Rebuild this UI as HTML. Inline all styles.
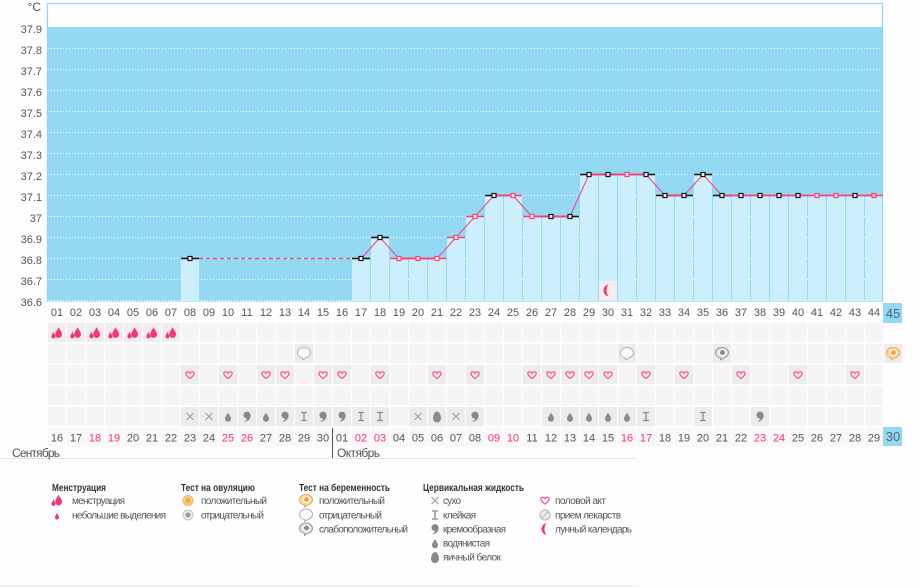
<!DOCTYPE html>
<html><head><meta charset="utf-8"><style>
html,body{margin:0;padding:0;background:#fdfefd;}
svg{display:block;font-family:"Liberation Sans",Arial,sans-serif;}
</style></head><body>
<svg width="921" height="587" viewBox="0 0 921 587" xmlns="http://www.w3.org/2000/svg">
<defs>
<pattern id="cells" x="47" y="323" width="19" height="21" patternUnits="userSpaceOnUse"><rect x="1" y="0" width="18" height="19" fill="#f5f5f5"/></pattern>
<pattern id="dcells" x="47" y="428" width="19" height="40" patternUnits="userSpaceOnUse"><rect x="1" y="0" width="18" height="19" fill="#f8f8f8"/></pattern>
<g id="heart"><path d="M0,3.6 C-1.8,2 -4.2,0.3 -4.2,-1.4 C-4.2,-3.4 -1.4,-4 0,-1.8 C1.4,-4 4.2,-3.4 4.2,-1.4 C4.2,0.3 1.8,2 0,3.6Z" fill="none" stroke="#ff4d85" stroke-width="1.2"/></g>
<g id="men" fill="#f2386f"><path d="M1.5,-6 C2.5,-3 5,-1.5 5,1.5 A3.4,3.4 0 0 1 -1.8,1.5 C-1.8,-1 0.5,-3 1.5,-6Z"/><path d="M-3.6,-1.5 C-3.2,0.5 -1.6,1.8 -1.6,3.4 A2,2 0 0 1 -5.6,3.4 C-5.6,1.8 -4,0.5 -3.6,-1.5Z"/></g>
<g id="smallmen" fill="#f2386f"><path d="M0,-3.5 C0.5,-1.5 2,0 2,1.5 A2,2 0 0 1 -2,1.5 C-2,0 -0.5,-1.5 0,-3.5Z"/></g>
<g id="cross" stroke="#9a9a9a" stroke-width="1"><path d="M-3.5,-3.5L3.5,3.5M3.5,-3.5L-3.5,3.5"/></g>
<g id="stick" stroke="#8a8a8a" stroke-width="1.3" fill="none"><path d="M-3,-4H3M0,-4V4M-3,4H3"/></g>
<g id="cream" fill="#888"><path d="M-3.6,-1.5 A3.6,3.6 0 1 1 3.6,-1 C3.6,3 0.5,5 -3,5.5 C-1,4 0,3 0.3,2 A3.6,3.6 0 0 1 -3.6,-1.5Z"/></g>
<g id="water" fill="#8a8a8a"><path d="M0,-4.5 C0.8,-2.5 3,-0.5 3,1.8 A3,3 0 0 1 -3,1.8 C-3,-0.5 -0.8,-2.5 0,-4.5Z"/></g>
<g id="egg" fill="#8a8a8a"><path d="M0,-5.5 C2.8,-5.5 4,-1 4,1.5 A4,4 0 0 1 -4,1.5 C-4,-1 -2.8,-5.5 0,-5.5Z"/></g>
<g id="bub"><path d="M-1.5,5 C-4.5,4.5 -6.5,2.5 -6.5,-0.3 A6.5,5.3 0 1 1 2,4.8 L-1.5,6.8Z" fill="#fafafa" stroke="#b0b0b0" stroke-width="1"/></g>
<g id="graybub"><path d="M-1.5,5 C-4.5,4.5 -6.5,2.5 -6.5,-0.3 A6.5,5.3 0 1 1 2,4.8 L-1.5,6.8Z" fill="#e2e2e2" stroke="#999" stroke-width="1"/><circle cx="0.5" cy="-0.5" r="3" fill="#8a8a8a" stroke="#fff" stroke-width="1"/></g>
<g id="orbub"><path d="M-1.5,5 C-4.5,4.5 -6.5,2.5 -6.5,-0.3 A6.5,5.3 0 1 1 2,4.8 L-1.5,6.8Z" fill="#fbd9a6" stroke="#e9a84f" stroke-width="1"/><circle cx="0.5" cy="-0.5" r="3" fill="#f0a540" stroke="#fff" stroke-width="1"/></g>
<g id="moon"><path d="M1.5,-6 A6,6 0 0 0 1.5,6 A3,6 0 0 1 1.5,-6Z" fill="#f2386f"/></g>
</defs>

<!-- plot -->
<rect x="47.5" y="3.5" width="835" height="297.5" fill="#fdfefd" stroke="#8fd6f0" stroke-width="1.2"/>
<rect x="48" y="27" width="834" height="274" fill="#93d9f3"/>
<g stroke="#ffffff" stroke-width="1" stroke-dasharray="1 2">
<line x1="48" y1="48.5" x2="882" y2="48.5"/><line x1="48" y1="69.5" x2="882" y2="69.5"/><line x1="48" y1="90.5" x2="882" y2="90.5"/><line x1="48" y1="111.5" x2="882" y2="111.5"/><line x1="48" y1="132.5" x2="882" y2="132.5"/><line x1="48" y1="153.5" x2="882" y2="153.5"/><line x1="48" y1="174.5" x2="882" y2="174.5"/><line x1="48" y1="195.5" x2="882" y2="195.5"/><line x1="48" y1="216.5" x2="882" y2="216.5"/><line x1="48" y1="237.5" x2="882" y2="237.5"/><line x1="48" y1="258.5" x2="882" y2="258.5"/><line x1="48" y1="279.5" x2="882" y2="279.5"/><line x1="48" y1="300.5" x2="882" y2="300.5"/>
</g>
<g fill="#cdeefb">
<rect x="181" y="258.5" width="18" height="42.5"/>
<rect x="352" y="258.5" width="18" height="42.5"/>
<rect x="371" y="237.5" width="18" height="63.5"/>
<rect x="390" y="258.5" width="18" height="42.5"/>
<rect x="409" y="258.5" width="18" height="42.5"/>
<rect x="428" y="258.5" width="18" height="42.5"/>
<rect x="447" y="237.5" width="18" height="63.5"/>
<rect x="466" y="216.5" width="18" height="84.5"/>
<rect x="485" y="195.5" width="18" height="105.5"/>
<rect x="504" y="195.5" width="18" height="105.5"/>
<rect x="523" y="216.5" width="18" height="84.5"/>
<rect x="542" y="216.5" width="18" height="84.5"/>
<rect x="561" y="216.5" width="18" height="84.5"/>
<rect x="580" y="174.5" width="18" height="126.5"/>
<rect x="599" y="174.5" width="18" height="126.5"/>
<rect x="618" y="174.5" width="18" height="126.5"/>
<rect x="637" y="174.5" width="18" height="126.5"/>
<rect x="656" y="195.5" width="18" height="105.5"/>
<rect x="675" y="195.5" width="18" height="105.5"/>
<rect x="694" y="174.5" width="18" height="126.5"/>
<rect x="713" y="195.5" width="18" height="105.5"/>
<rect x="732" y="195.5" width="18" height="105.5"/>
<rect x="751" y="195.5" width="18" height="105.5"/>
<rect x="770" y="195.5" width="18" height="105.5"/>
<rect x="789" y="195.5" width="18" height="105.5"/>
<rect x="808" y="195.5" width="18" height="105.5"/>
<rect x="827" y="195.5" width="18" height="105.5"/>
<rect x="846" y="195.5" width="18" height="105.5"/>
<rect x="865" y="195.5" width="17" height="105.5"/>
</g>
<!-- moon cell -->
<rect x="599" y="281" width="18" height="19" fill="#f4eef0"/>
<use href="#moon" x="608" y="290.5"/>

<!-- dashed gap -->
<line x1="199" y1="258.5" x2="352" y2="258.5" stroke="#ff3d73" stroke-width="1.2" stroke-dasharray="4 3"/>
<!-- ticks -->
<g stroke="#111" stroke-width="1.5">
<line x1="181" y1="258.5" x2="199" y2="258.5"/>
<line x1="352" y1="258.5" x2="370" y2="258.5"/>
<line x1="371" y1="237.5" x2="389" y2="237.5"/>
<line x1="485" y1="195.5" x2="503" y2="195.5"/>
<line x1="542" y1="216.5" x2="560" y2="216.5"/>
<line x1="561" y1="216.5" x2="579" y2="216.5"/>
<line x1="580" y1="174.5" x2="598" y2="174.5"/>
<line x1="599" y1="174.5" x2="617" y2="174.5"/>
<line x1="637" y1="174.5" x2="655" y2="174.5"/>
<line x1="656" y1="195.5" x2="674" y2="195.5"/>
<line x1="675" y1="195.5" x2="693" y2="195.5"/>
<line x1="694" y1="174.5" x2="712" y2="174.5"/>
<line x1="713" y1="195.5" x2="731" y2="195.5"/>
</g>
<g stroke="#ff3d73" stroke-width="1.5">
<line x1="447" y1="237.5" x2="465" y2="237.5"/>
<line x1="466" y1="216.5" x2="484" y2="216.5"/>
<line x1="504" y1="195.5" x2="522" y2="195.5"/>
<line x1="523" y1="216.5" x2="541" y2="216.5"/>
<line x1="390" y1="258.5" x2="427" y2="258.5"/>
<line x1="428" y1="258.5" x2="446" y2="258.5"/>
<line x1="618" y1="174.5" x2="636" y2="174.5"/>
<line x1="865" y1="195.5" x2="883" y2="195.5"/>
</g>
<!-- connections -->
<g stroke="#ff3d73" stroke-width="1.8">
<line x1="399" y1="258.5" x2="437" y2="258.5"/>
<line x1="494" y1="195.5" x2="513" y2="195.5"/>
<line x1="532" y1="216.5" x2="570" y2="216.5"/>
<line x1="589" y1="174.5" x2="646" y2="174.5"/>
<line x1="665" y1="195.5" x2="684" y2="195.5"/>
<line x1="722" y1="195.5" x2="874" y2="195.5"/>
</g>
<g stroke="#ff3d73" stroke-width="1">
<line x1="361" y1="258.5" x2="380" y2="237.5"/>
<line x1="380" y1="237.5" x2="399" y2="258.5"/>
<line x1="437" y1="258.5" x2="456" y2="237.5"/>
<line x1="456" y1="237.5" x2="475" y2="216.5"/>
<line x1="475" y1="216.5" x2="494" y2="195.5"/>
<line x1="513" y1="195.5" x2="532" y2="216.5"/>
<line x1="570" y1="216.5" x2="589" y2="174.5"/>
<line x1="646" y1="174.5" x2="665" y2="195.5"/>
<line x1="684" y1="195.5" x2="703" y2="174.5"/>
<line x1="703" y1="174.5" x2="722" y2="195.5"/>
</g>
<!-- markers -->
<g fill="#fff" stroke="#111" stroke-width="1.2">
<rect x="188" y="256.5" width="4" height="4"/>
<rect x="359" y="256.5" width="4" height="4"/>
<rect x="378" y="235.5" width="4" height="4"/>
<rect x="492" y="193.5" width="4" height="4"/>
<rect x="549" y="214.5" width="4" height="4"/>
<rect x="568" y="214.5" width="4" height="4"/>
<rect x="587" y="172.5" width="4" height="4"/>
<rect x="606" y="172.5" width="4" height="4"/>
<rect x="644" y="172.5" width="4" height="4"/>
<rect x="663" y="193.5" width="4" height="4"/>
<rect x="682" y="193.5" width="4" height="4"/>
<rect x="701" y="172.5" width="4" height="4"/>
<rect x="720" y="193.5" width="4" height="4"/>
<rect x="739" y="193.5" width="4" height="4"/>
<rect x="758" y="193.5" width="4" height="4"/>
<rect x="777" y="193.5" width="4" height="4"/>
<rect x="796" y="193.5" width="4" height="4"/>
<rect x="853" y="193.5" width="4" height="4"/>
</g>
<g fill="#fff" stroke="#ff3d73" stroke-width="1.2">
<rect x="397" y="256.5" width="4" height="4"/>
<rect x="416" y="256.5" width="4" height="4"/>
<rect x="435" y="256.5" width="4" height="4"/>
<rect x="454" y="235.5" width="4" height="4"/>
<rect x="473" y="214.5" width="4" height="4"/>
<rect x="511" y="193.5" width="4" height="4"/>
<rect x="530" y="214.5" width="4" height="4"/>
<rect x="625" y="172.5" width="4" height="4"/>
<rect x="815" y="193.5" width="4" height="4"/>
<rect x="834" y="193.5" width="4" height="4"/>
<rect x="872" y="193.5" width="4" height="4" fill="#ffc0d0"/>
</g>

<!-- y labels -->
<g font-size="11" fill="#555" text-anchor="end">
<text x="41" y="11" font-size="12">°C</text>
<text x="42" y="33">37.9</text><text x="42" y="54">37.8</text><text x="42" y="75">37.7</text><text x="42" y="96">37.6</text><text x="42" y="117">37.5</text><text x="42" y="138">37.4</text><text x="42" y="159">37.3</text><text x="42" y="180">37.2</text><text x="42" y="201">37.1</text><text x="42" y="222">37</text><text x="42" y="243">36.9</text><text x="42" y="264">36.8</text><text x="42" y="285">36.7</text><text x="42" y="306">36.6</text>
</g>

<!-- day numbers -->
<g font-size="11" fill="#555" text-anchor="middle">
<text x="57" y="316">01</text><text x="76" y="316">02</text><text x="95" y="316">03</text><text x="114" y="316">04</text><text x="133" y="316">05</text><text x="152" y="316">06</text><text x="171" y="316">07</text><text x="190" y="316">08</text><text x="209" y="316">09</text><text x="228" y="316">10</text><text x="247" y="316">11</text><text x="266" y="316">12</text><text x="285" y="316">13</text><text x="304" y="316">14</text><text x="323" y="316">15</text><text x="342" y="316">16</text><text x="361" y="316">17</text><text x="380" y="316">18</text><text x="399" y="316">19</text><text x="418" y="316">20</text><text x="437" y="316">21</text><text x="456" y="316">22</text><text x="475" y="316">23</text><text x="494" y="316">24</text><text x="513" y="316">25</text><text x="532" y="316">26</text><text x="551" y="316">27</text><text x="570" y="316">28</text><text x="589" y="316">29</text><text x="608" y="316">30</text><text x="627" y="316">31</text><text x="646" y="316">32</text><text x="665" y="316">33</text><text x="684" y="316">34</text><text x="703" y="316">35</text><text x="722" y="316">36</text><text x="741" y="316">37</text><text x="760" y="316">38</text><text x="779" y="316">39</text><text x="798" y="316">40</text><text x="817" y="316">41</text><text x="836" y="316">42</text><text x="855" y="316">43</text><text x="874" y="316">44</text>
</g>
<rect x="883" y="303" width="19" height="20" fill="#93d9f3"/>
<text x="893" y="318" font-size="13" fill="#4a6474" text-anchor="middle">45</text>

<!-- icon rows -->
<rect x="47" y="323" width="836" height="104" fill="url(#cells)"/>
<g fill="#f1ecee">
<rect x="48" y="323" width="18" height="19"/><rect x="67" y="323" width="18" height="19"/><rect x="86" y="323" width="18" height="19"/><rect x="105" y="323" width="18" height="19"/><rect x="124" y="323" width="18" height="19"/><rect x="143" y="323" width="18" height="19"/><rect x="162" y="323" width="18" height="19"/>
</g>
<g fill="#ececec">
<!-- row B -->
<rect x="295" y="344" width="18" height="19"/><rect x="618" y="344" width="18" height="19"/><rect x="713" y="344" width="18" height="19"/><rect x="884" y="344" width="18" height="19"/>
<!-- row C -->
<rect x="181" y="365" width="18" height="19"/><rect x="219" y="365" width="18" height="19"/><rect x="257" y="365" width="18" height="19"/><rect x="276" y="365" width="18" height="19"/><rect x="314" y="365" width="18" height="19"/><rect x="333" y="365" width="18" height="19"/><rect x="371" y="365" width="18" height="19"/><rect x="428" y="365" width="18" height="19"/><rect x="466" y="365" width="18" height="19"/><rect x="523" y="365" width="18" height="19"/><rect x="542" y="365" width="18" height="19"/><rect x="561" y="365" width="18" height="19"/><rect x="580" y="365" width="18" height="19"/><rect x="599" y="365" width="18" height="19"/><rect x="637" y="365" width="18" height="19"/><rect x="675" y="365" width="18" height="19"/><rect x="732" y="365" width="18" height="19"/><rect x="789" y="365" width="18" height="19"/><rect x="846" y="365" width="18" height="19"/>
<!-- row E -->
<rect x="181" y="407" width="18" height="19"/><rect x="200" y="407" width="18" height="19"/><rect x="219" y="407" width="18" height="19"/><rect x="238" y="407" width="18" height="19"/><rect x="257" y="407" width="18" height="19"/><rect x="276" y="407" width="18" height="19"/><rect x="295" y="407" width="18" height="19"/><rect x="314" y="407" width="18" height="19"/><rect x="333" y="407" width="18" height="19"/><rect x="352" y="407" width="18" height="19"/><rect x="371" y="407" width="18" height="19"/><rect x="409" y="407" width="18" height="19"/><rect x="428" y="407" width="18" height="19"/><rect x="447" y="407" width="18" height="19"/><rect x="466" y="407" width="18" height="19"/><rect x="542" y="407" width="18" height="19"/><rect x="561" y="407" width="18" height="19"/><rect x="580" y="407" width="18" height="19"/><rect x="599" y="407" width="18" height="19"/><rect x="618" y="407" width="18" height="19"/><rect x="637" y="407" width="18" height="19"/><rect x="694" y="407" width="18" height="19"/><rect x="751" y="407" width="18" height="19"/>
</g>
<!-- row A icons -->
<use href="#men" x="57" y="333"/><use href="#men" x="76" y="333"/><use href="#men" x="95" y="333"/><use href="#men" x="114" y="333"/><use href="#men" x="133" y="333"/><use href="#men" x="152" y="333"/><use href="#men" x="171" y="333"/>
<!-- row B icons -->
<use href="#bub" x="304" y="353"/><use href="#bub" x="627" y="353"/><use href="#graybub" x="722" y="353"/><use href="#orbub" x="893" y="353"/>
<!-- row C hearts -->
<use href="#heart" x="190" y="375"/><use href="#heart" x="228" y="375"/><use href="#heart" x="266" y="375"/><use href="#heart" x="285" y="375"/><use href="#heart" x="323" y="375"/><use href="#heart" x="342" y="375"/><use href="#heart" x="380" y="375"/><use href="#heart" x="437" y="375"/><use href="#heart" x="475" y="375"/><use href="#heart" x="532" y="375"/><use href="#heart" x="551" y="375"/><use href="#heart" x="570" y="375"/><use href="#heart" x="589" y="375"/><use href="#heart" x="608" y="375"/><use href="#heart" x="646" y="375"/><use href="#heart" x="684" y="375"/><use href="#heart" x="741" y="375"/><use href="#heart" x="798" y="375"/><use href="#heart" x="855" y="375"/>
<!-- row E cervical -->
<use href="#cross" x="190" y="416.5"/><use href="#cross" x="209" y="416.5"/><use href="#water" x="228" y="417"/><use href="#cream" x="247" y="416.5"/><use href="#water" x="266" y="417"/><use href="#cream" x="285" y="416.5"/><use href="#stick" x="304" y="416.5"/><use href="#cream" x="323" y="416.5"/><use href="#cream" x="342" y="416.5"/><use href="#stick" x="361" y="416.5"/><use href="#stick" x="380" y="416.5"/><use href="#cross" x="418" y="416.5"/><use href="#egg" x="437" y="417"/><use href="#cross" x="456" y="416.5"/><use href="#cream" x="475" y="416.5"/><use href="#water" x="551" y="417"/><use href="#water" x="570" y="417"/><use href="#water" x="589" y="417"/><use href="#water" x="608" y="417"/><use href="#water" x="627" y="417"/><use href="#stick" x="646" y="416.5"/><use href="#stick" x="703" y="416.5"/><use href="#cream" x="760" y="416.5"/>

<!-- date row -->
<rect x="47" y="428" width="836" height="19" fill="url(#dcells)"/>
<g font-size="11" fill="#555" text-anchor="middle">
<text x="57" y="441.5">16</text><text x="76" y="441.5">17</text><text x="95" y="441.5" fill="#ff3366">18</text><text x="114" y="441.5" fill="#ff3366">19</text><text x="133" y="441.5">20</text><text x="152" y="441.5">21</text><text x="171" y="441.5">22</text><text x="190" y="441.5">23</text><text x="209" y="441.5">24</text><text x="228" y="441.5" fill="#ff3366">25</text><text x="247" y="441.5" fill="#ff3366">26</text><text x="266" y="441.5">27</text><text x="285" y="441.5">28</text><text x="304" y="441.5">29</text><text x="323" y="441.5">30</text><text x="342" y="441.5">01</text><text x="361" y="441.5" fill="#ff3366">02</text><text x="380" y="441.5" fill="#ff3366">03</text><text x="399" y="441.5">04</text><text x="418" y="441.5">05</text><text x="437" y="441.5">06</text><text x="456" y="441.5">07</text><text x="475" y="441.5">08</text><text x="494" y="441.5" fill="#ff3366">09</text><text x="513" y="441.5" fill="#ff3366">10</text><text x="532" y="441.5">11</text><text x="551" y="441.5">12</text><text x="570" y="441.5">13</text><text x="589" y="441.5">14</text><text x="608" y="441.5">15</text><text x="627" y="441.5" fill="#ff3366">16</text><text x="646" y="441.5" fill="#ff3366">17</text><text x="665" y="441.5">18</text><text x="684" y="441.5">19</text><text x="703" y="441.5">20</text><text x="722" y="441.5">21</text><text x="741" y="441.5">22</text><text x="760" y="441.5" fill="#ff3366">23</text><text x="779" y="441.5" fill="#ff3366">24</text><text x="798" y="441.5">25</text><text x="817" y="441.5">26</text><text x="836" y="441.5">27</text><text x="855" y="441.5">28</text><text x="874" y="441.5">29</text>
</g>
<rect x="883" y="427" width="19" height="19" fill="#93d9f3"/>
<text x="893" y="441" font-size="13" fill="#4a6474" text-anchor="middle">30</text>
<line x1="332.5" y1="428" x2="332.5" y2="458" stroke="#555" stroke-width="1"/>
<line x1="0" y1="458.5" x2="637" y2="458.5" stroke="#e4e4e4" stroke-width="1"/>
<text x="12" y="457" font-size="12" fill="#555" textLength="48">Сентябрь</text>
<text x="337" y="457" font-size="12" fill="#555" textLength="43">Октябрь</text>

<!-- legend -->
<g font-size="10" fill="#333" font-weight="bold">
<text x="52" y="491" textLength="54" lengthAdjust="spacingAndGlyphs">Менструация</text>
<text x="181" y="491" textLength="74" lengthAdjust="spacingAndGlyphs">Тест на овуляцию</text>
<text x="299" y="491" textLength="91" lengthAdjust="spacingAndGlyphs">Тест на беременность</text>
<text x="423" y="491" textLength="101" lengthAdjust="spacingAndGlyphs">Цервикальная жидкость</text>
</g>
<g font-size="10" fill="#555">
<text x="72" y="504" textLength="53">менструация</text>
<text x="72" y="518.5" textLength="94">небольшие выделения</text>
<text x="201" y="504" textLength="66">положительный</text>
<text x="201" y="518.5" textLength="63">отрицательный</text>
<text x="319" y="504" textLength="66">положительный</text>
<text x="319" y="518.5" textLength="63">отрицательный</text>
<text x="319" y="532.5" textLength="89">слабоположительный</text>
<text x="443" y="504" textLength="18">сухо</text>
<text x="443" y="518.5" textLength="33">клейкая</text>
<text x="443" y="532.5" textLength="63">кремообразная</text>
<text x="443" y="546.5" textLength="47">водянистая</text>
<text x="443" y="560.5" textLength="58">яичный белок</text>
<text x="555" y="504" textLength="51">половой акт</text>
<text x="555" y="518.5" textLength="66">прием лекарств</text>
<text x="555" y="532.5" textLength="77">лунный календарь</text>
</g>
<use href="#men" x="57" y="500.5"/>
<use href="#smallmen" x="57" y="516"/>
<circle cx="188" cy="500.5" r="5" fill="#fbd49a" stroke="#eeb060" stroke-width="1"/><circle cx="188" cy="500.5" r="3" fill="#f5b24c"/>
<circle cx="188" cy="515" r="5" fill="#ececec" stroke="#c4c4c4" stroke-width="1"/><circle cx="188" cy="515" r="2.5" fill="#999"/>
<use href="#orbub" x="306" y="500"/>
<use href="#bub" x="306" y="514.5"/>
<use href="#graybub" x="306" y="528.5"/>
<use href="#cross" x="435" y="500.5"/>
<use href="#stick" x="435" y="515"/>
<use href="#cream" x="435" y="529"/>
<use href="#water" x="435" y="543.5"/>
<use href="#egg" x="435" y="557.5"/>
<use href="#heart" x="545" y="500.5"/>
<circle cx="545" cy="515" r="5" fill="#ececec" stroke="#b5b5b5" stroke-width="1"/><line x1="541.5" y1="518.5" x2="548.5" y2="511.5" stroke="#b5b5b5" stroke-width="1"/>
<use href="#moon" x="546" y="529"/>
<line x1="0" y1="586" x2="637" y2="586" stroke="#e6e6e6" stroke-width="1.2"/>
</svg>
</body></html>
